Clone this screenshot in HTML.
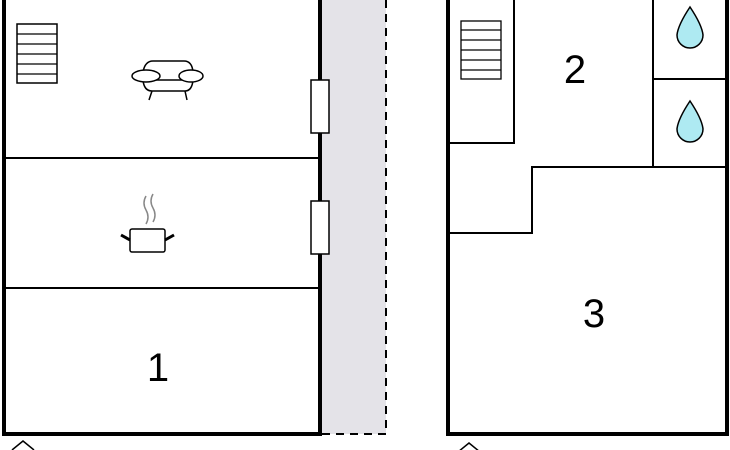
<!DOCTYPE html>
<html><head><style>body{margin:0;background:#fff}svg{display:block}</style></head><body>
<svg width="730" height="450" viewBox="0 0 730 450" xmlns="http://www.w3.org/2000/svg" font-family="Liberation Sans, sans-serif">
<rect x="322" y="0" width="64" height="434" fill="#e4e3e8"/>
<line x1="386" y1="0" x2="386" y2="434" stroke="#000" stroke-width="2" stroke-dasharray="8,6"/>
<line x1="322" y1="434" x2="386" y2="434" stroke="#000" stroke-width="2" stroke-dasharray="8,6"/>
<g fill="none" stroke="#000">
<path d="M4 0 V434 H320 V0" stroke-width="4"/>
<line x1="4" y1="158" x2="320" y2="158" stroke-width="2"/>
<line x1="4" y1="288" x2="320" y2="288" stroke-width="2"/>
<rect x="311" y="80" width="18" height="53" fill="#fff" stroke-width="1.5"/>
<rect x="311" y="201" width="18" height="53" fill="#fff" stroke-width="1.5"/>
<rect x="17" y="24" width="40" height="59" stroke-width="1.5"/>
<path d="M17 34H57M17 44H57M17 54H57M17 64H57M17 74H57" stroke-width="1.3"/>
<path d="M143 72 Q145 61 153 61 H184 Q192 61 193 72 M143 80 Q144 91 152 91 H185 Q192 91 193 80 M143 80 H193 M152 91 L149 100 M185 91 L187 100" stroke-width="1.5"/>
<ellipse cx="146" cy="76" rx="14" ry="6" fill="#fff" stroke-width="1.5"/>
<ellipse cx="191" cy="76" rx="12" ry="6" fill="#fff" stroke-width="1.5"/>
<rect x="130" y="229" width="35" height="23" rx="2" stroke-width="1.5"/>
<path d="M121 235 L130 240 M174 235 L165 240" stroke-width="3"/>
<path d="M146 196 Q142 203 146 210 Q150 217 146 224 M153 194 Q149 201 153 208 Q157 215 153 222" stroke="#888" stroke-width="1.5"/>
<path d="M448 0 V434 H727 V0" stroke-width="4"/>
<path d="M450 143 H514 V0" stroke-width="2"/>
<rect x="461" y="21" width="40" height="58" stroke-width="1.3"/>
<path d="M461 30H501M461 40H501M461 50H501M461 60H501M461 70H501" stroke-width="1.3"/>
<path d="M653 0 V167 M653 79 H727 M727 167 H532 V233 H450" stroke-width="2"/>
</g>
<path d="M690 7 Q702 25 703 35 A13 13 0 0 1 677 35 Q678 25 690 7Z" fill="#aeeaf2" stroke="#000" stroke-width="1.5"/>
<path d="M690 101 Q702 119 703 129 A13 13 0 0 1 677 129 Q678 119 690 101Z" fill="#aeeaf2" stroke="#000" stroke-width="1.5"/>
<text x="158" y="381" font-size="40" text-anchor="middle">1</text>
<text x="575" y="83" font-size="40" text-anchor="middle">2</text>
<text x="594" y="327" font-size="40" text-anchor="middle">3</text>
<path d="M12 450 L23 441 L34 450" fill="none" stroke="#000" stroke-width="1.5"/>
<path d="M458 452 L469 443 L480 452" fill="none" stroke="#000" stroke-width="1.5"/>
</svg>
</body></html>
